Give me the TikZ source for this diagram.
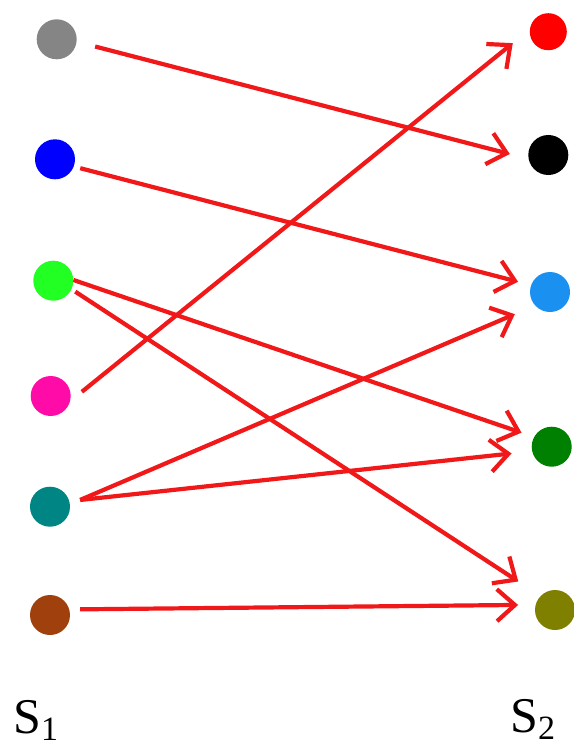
\documentclass[tikz,border=0pt]{standalone}
\usepackage{fontspec}
\setmainfont{Liberation Serif}
\newfontfamily\setfont{Liberation Serif}
\usetikzlibrary{arrows.meta}
\definecolor{dotgray}{HTML}{858585}
\definecolor{dotblue}{HTML}{0000FF}
\definecolor{dotgreen}{HTML}{22FF22}
\definecolor{dotpink}{HTML}{FF0CA8}
\definecolor{dotteal}{HTML}{008585}
\definecolor{dotbrown}{HTML}{A0400C}
\definecolor{dotred}{HTML}{FF0000}
\definecolor{dotblack}{HTML}{000000}
\definecolor{dotlblue}{HTML}{1A90F0}
\definecolor{dotdgreen}{HTML}{008000}
\definecolor{dotolive}{HTML}{808000}
\definecolor{linkred}{HTML}{F01818}

\begin{document}
\begin{tikzpicture}[
    x=1pt, y=-1pt,
    >={Straight Barb[length=18pt, width=32pt]},
    dot/.style={circle, fill=#1, minimum size=40pt, inner sep=0pt},
    link/.style={->, line width=4.2pt, color=linkred},
    set label/.style={font=\setfont\fontsize{50}{50}\selectfont, anchor=base west, inner sep=0pt},
]
\useasboundingbox (0,0) rectangle (573,747);

% === S1 ===
\node[dot=dotgray]  (gray)  at (56.7,39.3)  {};
\node[dot=dotblue]  (blue)  at (55,159.3)   {};
\node[dot=dotgreen] (green) at (53.3,280.7) {};
\node[dot=dotpink]  (pink)  at (50.7,396)   {};
\node[dot=dotteal]  (teal)  at (50,506.7)   {};
\node[dot=dotbrown] (brown) at (50,615)     {};

% === S2 ===
\node[dot=dotred, minimum size=37pt] (red) at (548.3,31.7) {};
\node[dot=dotblack] (black) at (548.3,155) {};
\node[dot=dotlblue] (lblue) at (550,292)   {};
\node[dot=dotdgreen] (dgreen) at (551.7,446.7) {};
\node[dot=dotolive] (olive) at (555,610)   {};

% ===== ARROWS =====
\draw[link, shorten <=19pt, shorten >=19.3pt] (gray.-7.5) -- (black.191);
\draw[link, shorten <=6.6pt, shorten >=13.4pt] (blue.-21.6) -- (lblue.160);
\draw[link, shorten >=13.2pt] (green.2.6) -- (dgreen.151);
\draw[link, shorten <=4.4pt, shorten >=26.5pt] (green.-25.5) -- (olive.136);
\draw[link, shorten <=15pt, shorten >=21.8pt] (pink.-15) -- (red.173);
\draw[link, shorten <=11pt, shorten >=21.9pt] (teal.7) -- (lblue.222);
\draw[link, shorten <=10.8pt, shorten >=20.6pt] (teal.16) -- (dgreen.193);
\draw[link, shorten <=10.8pt, shorten >=17.4pt] (brown.16) -- (olive.165);

% === labels ===
\node[set label] (s1) at (13,733)  {S\raisebox{-7pt}{\fontsize{34}{34}\selectfont 1}};
\node[set label] (s2) at (510,732) {S\raisebox{-7pt}{\fontsize{34}{34}\selectfont 2}};

\end{tikzpicture}
\end{document}
